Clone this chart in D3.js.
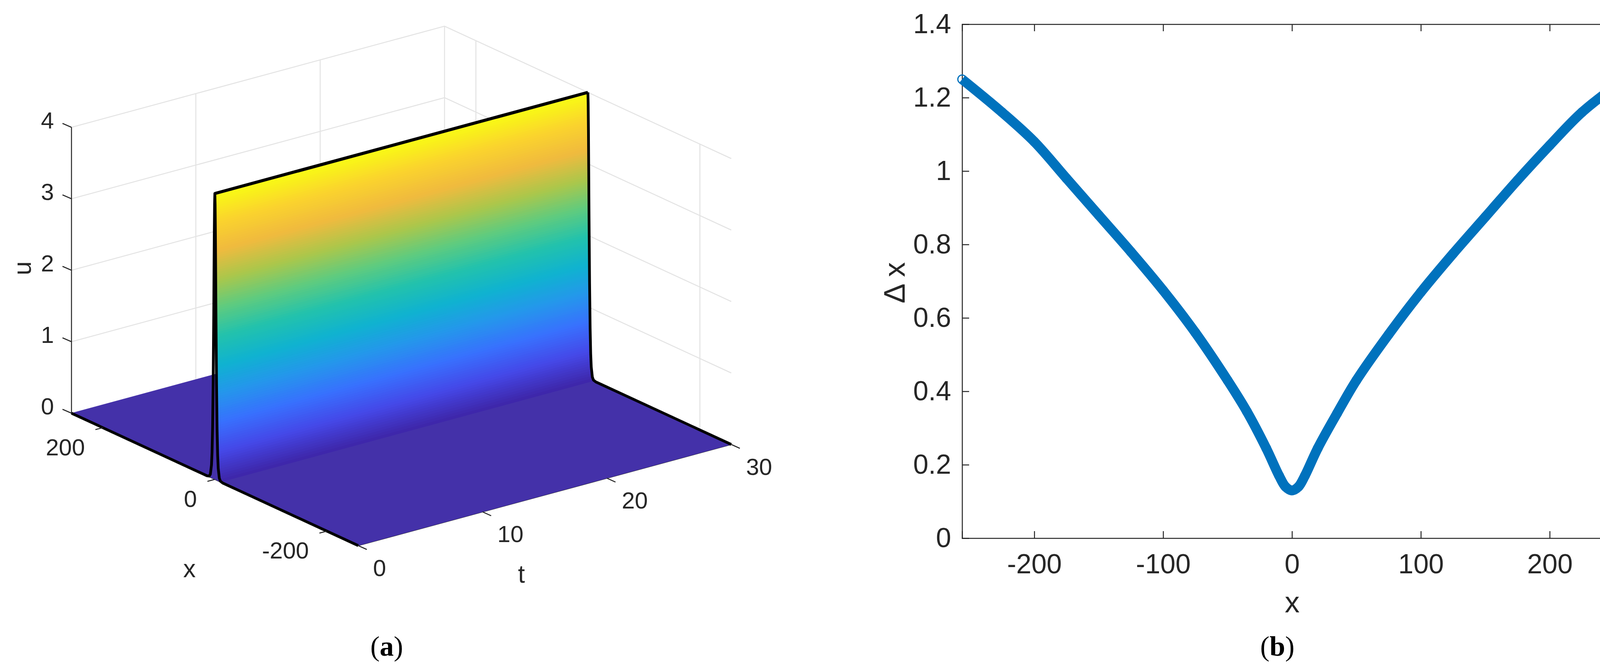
<!DOCTYPE html>
<html>
<head>
<meta charset="utf-8">
<script src="https://cdn.jsdelivr.net/npm/d3@7"></script>
<style>
  html, body { margin: 0; padding: 0; background: #fff; overflow: hidden; }
  svg { display: block; }
  text { font-family: "Liberation Sans", Arial, sans-serif; fill: #262626; }
</style>
</head>
<body>
<svg id="fig" width="4183" height="1713"></svg>
<script>
// ---- panel (a): soliton surface u(x,t) ----
var xTicksA = [-200, 0, 200];
var tTicksA = [0, 10, 20, 30];
var uTicksA = [0, 1, 2, 3, 4];
// half profile of the crest (offset from x=0)
var profX = [0, 0.5, 1, 1.5, 2, 3, 4, 5, 6, 8, 10, 14, 20];
var profU = [4, 3.85, 3.45, 2.9, 2.3, 1.35, 0.72, 0.36, 0.18, 0.045, 0.01, 0, 0];
// parula colormap stops
var parulaStops = [0, .1, .2, .3, .4, .5, .6, .7, .8, .9, 1];
var parulaCols = ["#3e26a8", "#4548e8", "#3870fe", "#2596ec", "#0fb2d0", "#22c2ad",
                  "#5ecb7f", "#abc74b", "#f0ba3e", "#fad32d", "#f9fb14"];

// ---- panel (b): grid spacing ----
var gridX  = [-256, -225, -200, -175, -150, -125, -100, -75, -50, -35, -20, -10, -5, 0,
              5, 10, 20, 35, 50, 75, 100, 125, 150, 175, 200, 225, 256];
var gridDx = [1.25, 1.16, 1.08, 0.98, 0.88, 0.78, 0.675, 0.56, 0.43, 0.345, 0.245, 0.17, 0.14, 0.13,
              0.14, 0.17, 0.245, 0.34, 0.43, 0.555, 0.67, 0.775, 0.875, 0.975, 1.07, 1.16, 1.245];
var xTicksB = [-200, -100, 0, 100, 200];
var yTicksB = [0, 0.2, 0.4, 0.6, 0.8, 1, 1.2, 1.4];

var svg = d3.select("#fig");
var ink = "#262626";

// ================= panel (a) =================
var ga = svg.append("g");
// oblique projection of the MATLAB view
var sx = d3.scaleLinear().domain([-256, 256]).range([0, 1]);
var F = [917, 1397], XV = [183 - 917, 1058 - 1397], TV = [955 / 30, -259 / 30], US = 183;
function proj(x, t, u) {
  var f = sx(x);
  return [F[0] + f * XV[0] + t * TV[0], F[1] + f * XV[1] + t * TV[1] - u * US];
}
var line = d3.line();
var parula = d3.scaleLinear().domain(parulaStops.map(function(d){ return d * 4; })).range(parulaCols);

// grid on back walls
var gridCol = "#e3e3e3";
uTicksA.slice(1).forEach(function(u){
  ga.append("path").attr("d", line([proj(256, 0, u), proj(256, 30, u), proj(-256, 30, u)]))
    .attr("fill", "none").attr("stroke", gridCol).attr("stroke-width", 2.5);
});
[10, 20, 30].forEach(function(t){
  ga.append("path").attr("d", line([proj(256, t, 0), proj(256, t, 4)]))
    .attr("fill", "none").attr("stroke", gridCol).attr("stroke-width", 2.5);
});
xTicksA.forEach(function(x){
  ga.append("path").attr("d", line([proj(x, 30, 0), proj(x, 30, 4)]))
    .attr("fill", "none").attr("stroke", gridCol).attr("stroke-width", 2.5);
});

// axes lines
ga.append("path").attr("d", line([proj(256, 0, 0), proj(256, 0, 4)]))
  .attr("stroke", ink).attr("stroke-width", 2.5);
ga.append("path").attr("d", line([proj(256, 0, 0), proj(-256, 0, 0), proj(-256, 30, 0)]))
  .attr("fill", "none").attr("stroke", ink).attr("stroke-width", 2.5);

// floor
ga.append("path").attr("d", line([proj(256, 0, 0), proj(-256, 0, 0), proj(-256, 30, 0), proj(256, 30, 0)]) + "Z")
  .attr("fill", "#4431a9").attr("stroke", "#4431a9");

// crest wall (face toward viewer, x<0 side) in thin colour bands
var xAtU = d3.scaleLinear().domain(profU.slice(0, 12)).range(profX.slice(0, 12));
var nb = 120;
d3.range(nb).forEach(function(k){
  var u0 = 4 * k / nb, u1 = 4 * (k + 1) / nb;
  var x0 = -xAtU(Math.max(u0, 0.01)), x1 = -xAtU(u1);
  var c = parula((u0 + u1) / 2);
  ga.append("path")
    .attr("d", line([proj(x0, 0, u0), proj(x1, 0, u1), proj(x1, 30, u1), proj(x0, 30, u0)]) + "Z")
    .attr("fill", c).attr("stroke", c).attr("stroke-width", 1);
});

// black profile lines
var pts0 = [[256, 0]];
for (var i = profX.length - 1; i >= 0; i--) pts0.push([profX[i], profU[i]]);
for (var j = 1; j < profX.length; j++) pts0.push([-profX[j], profU[j]]);
pts0.push([-256, 0]);
ga.append("path").attr("d", line(pts0.map(function(p){ return proj(p[0], 0, p[1]); })))
  .attr("fill", "none").attr("stroke", "#000").attr("stroke-width", 7).attr("stroke-linejoin", "round");
var pts30 = pts0.filter(function(p){ return p[0] <= 0; });
ga.append("path").attr("d", line(pts30.map(function(p){ return proj(p[0], 30, p[1]); })))
  .attr("fill", "none").attr("stroke", "#000").attr("stroke-width", 7).attr("stroke-linejoin", "round");
ga.append("path").attr("d", line([proj(0, 0, 4), proj(0, 30, 4)]))
  .attr("stroke", "#000").attr("stroke-width", 8);

// ticks and labels
var fsA = 60;
uTicksA.forEach(function(u){
  var p = proj(256, 0, u);
  ga.append("line").attr("x1", p[0]).attr("y1", p[1]).attr("x2", p[0] - 23).attr("y2", p[1] - 10)
    .attr("stroke", ink).attr("stroke-width", 2.5);
  ga.append("text").attr("x", p[0] - 45).attr("y", p[1] - 18).attr("text-anchor", "end")
    .attr("dominant-baseline", "central").attr("font-size", fsA).text(u);
});
xTicksA.forEach(function(x){
  var p = proj(x, 0, 0);
  ga.append("line").attr("x1", p[0]).attr("y1", p[1]).attr("x2", p[0] - 19).attr("y2", p[1] + 5)
    .attr("stroke", ink).attr("stroke-width", 2.5);
  ga.append("text").attr("x", p[0] - 46).attr("y", p[1] + 50).attr("text-anchor", "end")
    .attr("dominant-baseline", "central").attr("font-size", fsA).text(x);
});
tTicksA.forEach(function(t){
  var p = proj(-256, t, 0);
  ga.append("line").attr("x1", p[0]).attr("y1", p[1]).attr("x2", p[0] + 22).attr("y2", p[1] + 10)
    .attr("stroke", ink).attr("stroke-width", 2.5);
  ga.append("text").attr("x", p[0] + 38).attr("y", p[1] + 57).attr("text-anchor", "start")
    .attr("dominant-baseline", "central").attr("font-size", fsA).text(t);
});
ga.append("text").attr("x", 485).attr("y", 1456).attr("text-anchor", "middle")
  .attr("dominant-baseline", "central").attr("font-size", 64).text("x");
ga.append("text").attr("x", 1335).attr("y", 1470).attr("text-anchor", "middle")
  .attr("dominant-baseline", "central").attr("font-size", 64).text("t");
ga.append("text").attr("transform", "translate(57,687) rotate(-90)").attr("text-anchor", "middle")
  .attr("dominant-baseline", "central").attr("font-size", 64).text("u");

// ================= panel (b) =================
var gb = svg.append("g");
var x = d3.scaleLinear().domain([-256, 256]).range([2463, 4152]);
var y = d3.scaleLinear().domain([0, 1.4]).range([1378, 62]);
var fmt = function(d){ return String(d); };
var fsB = 70;

gb.append("g").attr("transform", "translate(0," + y(0) + ")")
  .call(d3.axisBottom(x).tickValues(xTicksB).tickSize(-18).tickPadding(40).tickFormat(fmt));
gb.append("g").attr("transform", "translate(0," + y(1.4) + ")")
  .call(d3.axisTop(x).tickValues(xTicksB).tickSize(-18).tickFormat(""));
gb.append("g").attr("transform", "translate(" + x(-256) + ",0)")
  .call(d3.axisLeft(y).tickValues(yTicksB).tickSize(-18).tickPadding(28).tickFormat(fmt));
gb.append("g").attr("transform", "translate(" + x(256) + ",0)")
  .call(d3.axisRight(y).tickValues(yTicksB).tickSize(-18).tickFormat(""));
gb.selectAll(".domain, .tick line").attr("stroke", ink).attr("stroke-width", 2.5);
gb.selectAll(".tick text").attr("font-size", fsB).attr("fill", ink)
  .attr("font-family", "Liberation Sans, Arial, sans-serif");

var blue = "#0072bd";
var pts = gridX.map(function(d, i){ return [x(d), y(gridDx[i])]; });
gb.append("path").attr("d", d3.line().curve(d3.curveCatmullRom)(pts)).attr("fill", "none")
  .attr("stroke", blue).attr("stroke-width", 25).attr("stroke-linejoin", "round");
gb.selectAll("circle.m").data(pts).join("circle").attr("class", "m")
  .attr("cx", function(d){ return d[0]; }).attr("cy", function(d){ return d[1]; })
  .attr("r", 11).attr("fill", "none").attr("stroke", blue).attr("stroke-width", 3);

gb.append("text").attr("x", 3308).attr("y", 1541).attr("text-anchor", "middle")
  .attr("dominant-baseline", "central").attr("font-size", 76).text("x");
gb.append("text").attr("transform", "translate(2289,724) rotate(-90)").attr("text-anchor", "middle")
  .attr("dominant-baseline", "central").attr("font-size", 76).text("Δ x");

// panel captions
[["a", 990], ["b", 3270]].forEach(function(c){
  var t = svg.append("text").attr("x", c[1]).attr("y", 1655).attr("text-anchor", "middle")
    .attr("dominant-baseline", "central").attr("font-size", 72)
    .style("font-family", "Liberation Serif, serif").style("fill", "#000");
  t.append("tspan").text("(");
  t.append("tspan").attr("font-weight", "bold").text(c[0]);
  t.append("tspan").text(")");
});
</script>
</body>
</html>
